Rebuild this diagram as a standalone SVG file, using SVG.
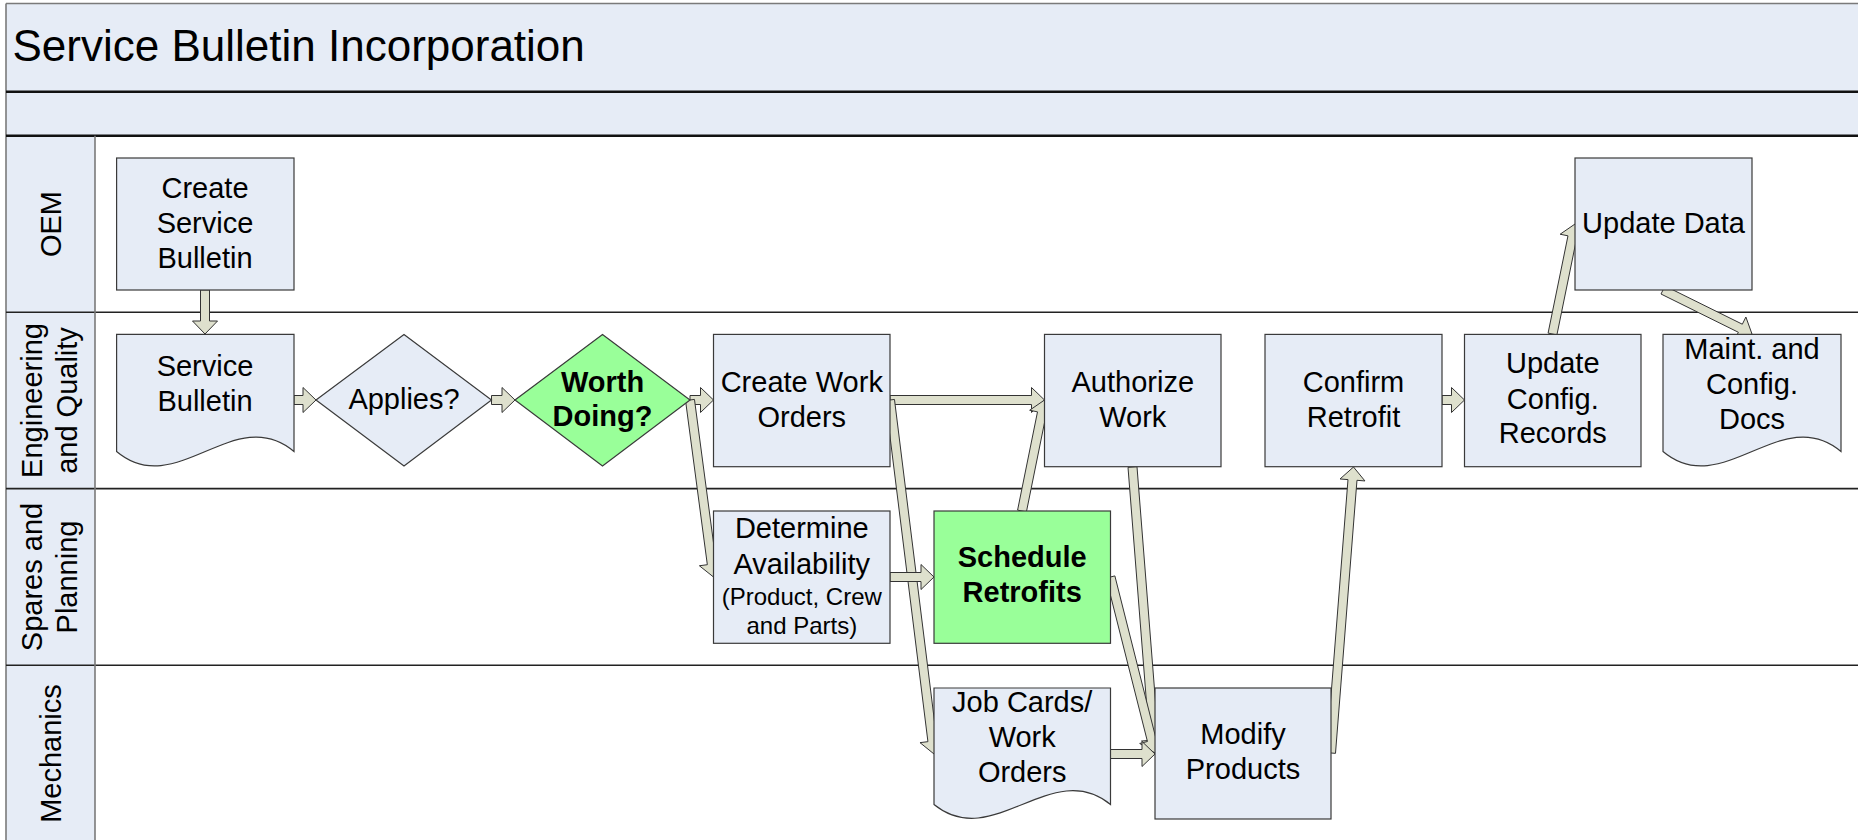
<svg xmlns="http://www.w3.org/2000/svg" width="1858" height="840" viewBox="0 0 1858 840">
<style>
  text { font-family: "Liberation Sans", Arial, sans-serif; fill: #000; }
  .t { font-size: 29px; text-anchor: middle; }
  .tb { font-size: 29px; text-anchor: middle; font-weight: bold; }
  .ts { font-size: 24px; text-anchor: middle; }
  .lane { font-size: 29px; text-anchor: middle; }
  .box { fill: #E6ECF6; stroke: #3a3a3a; stroke-width: 1.2; }
  .green { fill: #99FF99; stroke: #3a3a3a; stroke-width: 1.2; }
  .arrow { fill: #DEE0CD; stroke: #333; stroke-width: 1; stroke-linejoin: miter; }
  .band { fill: #E6ECF6; }
  .sep { stroke: #222; stroke-width: 1.6; fill: none; }
  .thick { stroke: #111; stroke-width: 2.4; fill: none; }
  .grey { stroke: #7a7a7a; stroke-width: 1.6; fill: none; }
</style>

<g id="pool">
  <rect x="0" y="0" width="1858" height="840" fill="#FFFFFF"/>
  <rect class="band" x="6" y="3.5" width="1852" height="132"/>
  <rect class="band" x="6" y="135.7" width="89" height="710"/>
  <line class="grey" x1="6" y1="3.5" x2="1858" y2="3.5"/>
  <line class="grey" x1="6" y1="3.5" x2="6" y2="840"/>
  <line class="thick" x1="6" y1="91.7" x2="1858" y2="91.7"/>
  <line class="thick" x1="6" y1="135.7" x2="1858" y2="135.7"/>
  <line class="sep" x1="6" y1="312.3" x2="1858" y2="312.3"/>
  <line class="sep" x1="6" y1="488.6" x2="1858" y2="488.6"/>
  <line class="sep" x1="6" y1="665.2" x2="1858" y2="665.2"/>
  <line class="grey" x1="95" y1="135.7" x2="95" y2="840"/>
  <text x="12.5" y="61" style="font-size:44px">Service Bulletin Incorporation</text>
  <text class="lane" transform="translate(61,224) rotate(-90)">OEM</text>
  <text class="lane" transform="translate(41.5,400.5) rotate(-90)">Engineering</text>
  <text class="lane" transform="translate(77,400.5) rotate(-90)">and Quality</text>
  <text class="lane" transform="translate(41.5,577) rotate(-90)">Spares and</text>
  <text class="lane" transform="translate(77,577) rotate(-90)">Planning</text>
  <text class="lane" transform="translate(61,753.5) rotate(-90)">Mechanics</text>
</g>

<g id="connectors">
  <polygon class="arrow" points="200.5,290 200.5,321 192.5,321 205,334 217.5,321 209.5,321 209.5,290"/>
  <polygon class="arrow" points="294,404.5 303,404.5 303,412.5 316,400 303,387.5 303,395.5 294,395.5"/>
  <polygon class="arrow" points="491.5,404.5 502,404.5 502,412.5 515,400 502,387.5 502,395.5 491.5,395.5"/>
  <polygon class="arrow" points="690,404.5 700.5,404.5 700.5,412.5 713.5,400 700.5,387.5 700.5,395.5 690,395.5"/>
  <polygon class="arrow" points="685.54,400.59 707.33,564.70 699.40,565.76 713.5,577 724.18,562.47 716.25,563.52 694.46,399.41"/>
  <polygon class="arrow" points="890,404.5 1031.5,404.5 1031.5,412.5 1044.5,400 1031.5,387.5 1031.5,395.5 890,395.5"/>
  <polygon class="arrow" points="885.53,400.56 927.93,741.66 919.99,742.64 934,754 944.80,739.56 936.87,740.55 894.47,399.44"/>
  <polygon class="arrow" points="890,581.5 921,581.5 921,589.5 934,577 921,564.5 921,572.5 890,572.5"/>
  <polygon class="arrow" points="1026.41,511.89 1046.33,413.63 1054.17,415.22 1044.5,400 1029.67,410.26 1037.51,411.85 1017.59,510.11"/>
  <polygon class="arrow" points="1128.01,467.35 1149.49,740.39 1141.52,741.02 1155,753 1166.44,739.06 1158.47,739.69 1136.99,466.65"/>
  <polygon class="arrow" points="1106.14,578.10 1147.45,741.50 1139.69,743.46 1155,753 1163.93,737.34 1156.17,739.30 1114.86,575.90"/>
  <polygon class="arrow" points="1110.5,758.5 1142,758.5 1142,766.5 1155,754 1142,741.5 1142,749.5 1110.5,749.5"/>
  <polygon class="arrow" points="1335.49,753.35 1356.97,480.31 1364.94,480.94 1353.5,467 1340.02,478.98 1347.99,479.61 1326.51,752.65"/>
  <polygon class="arrow" points="1442,404.5 1451.5,404.5 1451.5,412.5 1464.5,400 1451.5,387.5 1451.5,395.5 1442,395.5"/>
  <polygon class="arrow" points="1556.91,334.90 1576.80,237.64 1584.64,239.24 1575,224 1560.14,234.23 1567.98,235.83 1548.09,333.10"/>
  <polygon class="arrow" points="1661.01,294.03 1738.35,332.27 1734.81,339.45 1752,334 1745.89,317.03 1742.34,324.21 1664.99,285.97"/>
</g>

<g id="create-service-bulletin">
  <rect class="box" x="116.6" y="158" width="177.4" height="132"/>
  <text class="t" x="205" y="198">Create</text>
  <text class="t" x="205" y="233">Service</text>
  <text class="t" x="205" y="268">Bulletin</text>
</g>

<g id="service-bulletin">
  <path class="box" d="M116.6,334.4 H294 V451.5 C234.9,401.5 175.7,501.5 116.6,451.5 Z"/>
  <text class="t" x="205" y="376">Service</text>
  <text class="t" x="205" y="411">Bulletin</text>
</g>

<g id="applies">
  <polygon class="box" points="316,400 404,334.4 491.5,400 404,466"/>
  <text class="t" x="404" y="408.5">Applies?</text>
</g>

<g id="worth-doing">
  <polygon class="green" points="515,400 602.5,334.4 690,400 602.5,466"/>
  <text class="tb" x="602.5" y="391.5">Worth</text>
  <text class="tb" x="602.5" y="426">Doing?</text>
</g>

<g id="create-work-orders">
  <rect class="box" x="713.5" y="334.4" width="176.5" height="132.3"/>
  <text class="t" x="801.8" y="391.5">Create Work</text>
  <text class="t" x="801.8" y="426.5">Orders</text>
</g>

<g id="authorize-work">
  <rect class="box" x="1044.5" y="334.4" width="176.5" height="132.3"/>
  <text class="t" x="1132.8" y="391.5">Authorize</text>
  <text class="t" x="1132.8" y="426.5">Work</text>
</g>

<g id="confirm-retrofit">
  <rect class="box" x="1265" y="334.4" width="177" height="132.3"/>
  <text class="t" x="1353.5" y="391.5">Confirm</text>
  <text class="t" x="1353.5" y="426.5">Retrofit</text>
</g>

<g id="update-config-records">
  <rect class="box" x="1464.5" y="334.4" width="176.5" height="132.3"/>
  <text class="t" x="1552.8" y="373">Update</text>
  <text class="t" x="1552.8" y="408.5">Config.</text>
  <text class="t" x="1552.8" y="443">Records</text>
</g>

<g id="maint-config-docs">
  <path class="box" d="M1663,334.4 H1841 V451.5 C1781.7,401.5 1722.3,501.5 1663,451.5 Z"/>
  <text class="t" x="1752" y="358.5">Maint. and</text>
  <text class="t" x="1752" y="394">Config.</text>
  <text class="t" x="1752" y="429">Docs</text>
</g>

<g id="update-data">
  <rect class="box" x="1575" y="158" width="177" height="132"/>
  <text class="t" x="1663.5" y="233">Update Data</text>
</g>

<g id="determine-availability">
  <rect class="box" x="713.5" y="511" width="176.5" height="132.3"/>
  <text class="t" x="801.8" y="537.5">Determine</text>
  <text class="t" x="801.8" y="573.5">Availability</text>
  <text class="ts" x="801.8" y="605">(Product, Crew</text>
  <text class="ts" x="801.8" y="633.5">and Parts)</text>
</g>

<g id="schedule-retrofits">
  <rect class="green" x="934" y="511" width="176.5" height="132.3"/>
  <text class="tb" x="1022.2" y="567">Schedule</text>
  <text class="tb" x="1022.2" y="602">Retrofits</text>
</g>

<g id="job-cards">
  <path class="box" d="M934,688 H1110.5 V804.5 C1051.7,756.5 992.8,852.5 934,804.5 Z"/>
  <text class="t" x="1022.2" y="711.5">Job Cards/</text>
  <text class="t" x="1022.2" y="746.5">Work</text>
  <text class="t" x="1022.2" y="781.5">Orders</text>
</g>

<g id="modify-products">
  <rect class="box" x="1155" y="688" width="176" height="131"/>
  <text class="t" x="1243" y="744">Modify</text>
  <text class="t" x="1243" y="779">Products</text>
</g>
</svg>
